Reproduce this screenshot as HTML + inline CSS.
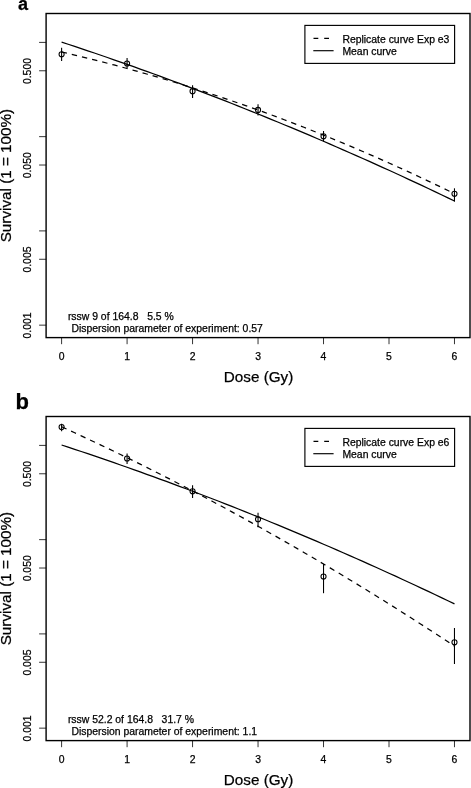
<!DOCTYPE html>
<html><head><meta charset="utf-8"><title>Survival curves</title>
<style>
html,body{margin:0;padding:0;background:#fff;}
svg{display:block;font-family:"Liberation Sans", Arial, Helvetica, sans-serif;fill:#000;}
text{stroke:#000;stroke-width:0.25px;}
</style></head>
<body>
<svg width="471" height="788" viewBox="0 0 471 788">
<rect x="0" y="0" width="471" height="788" fill="#fff"/>
<rect x="46.1" y="13.5" width="423.9" height="324.1" fill="none" stroke="#000" stroke-width="1.4"/>
<line x1="39.1" y1="42.40" x2="46.1" y2="42.40" stroke="#000" stroke-width="0.8"/>
<line x1="39.1" y1="70.77" x2="46.1" y2="70.77" stroke="#000" stroke-width="0.8"/>
<line x1="39.1" y1="136.65" x2="46.1" y2="136.65" stroke="#000" stroke-width="0.8"/>
<line x1="39.1" y1="165.02" x2="46.1" y2="165.02" stroke="#000" stroke-width="0.8"/>
<line x1="39.1" y1="230.90" x2="46.1" y2="230.90" stroke="#000" stroke-width="0.8"/>
<line x1="39.1" y1="259.27" x2="46.1" y2="259.27" stroke="#000" stroke-width="0.8"/>
<line x1="39.1" y1="325.15" x2="46.1" y2="325.15" stroke="#000" stroke-width="0.8"/>
<text transform="translate(31.4,71.07) rotate(-90)" text-anchor="middle" font-size="10.42">0.500</text>
<text transform="translate(31.4,165.32) rotate(-90)" text-anchor="middle" font-size="10.42">0.050</text>
<text transform="translate(31.4,259.57) rotate(-90)" text-anchor="middle" font-size="10.42">0.005</text>
<text transform="translate(31.4,325.45) rotate(-90)" text-anchor="middle" font-size="10.42">0.001</text>
<line x1="61.6" y1="337.6" x2="61.6" y2="344.20000000000005" stroke="#000" stroke-width="0.8"/>
<text x="61.6" y="360.20000000000005" text-anchor="middle" font-size="10.42">0</text>
<line x1="127.08000000000001" y1="337.6" x2="127.08000000000001" y2="344.20000000000005" stroke="#000" stroke-width="0.8"/>
<text x="127.08000000000001" y="360.20000000000005" text-anchor="middle" font-size="10.42">1</text>
<line x1="192.56" y1="337.6" x2="192.56" y2="344.20000000000005" stroke="#000" stroke-width="0.8"/>
<text x="192.56" y="360.20000000000005" text-anchor="middle" font-size="10.42">2</text>
<line x1="258.04" y1="337.6" x2="258.04" y2="344.20000000000005" stroke="#000" stroke-width="0.8"/>
<text x="258.04" y="360.20000000000005" text-anchor="middle" font-size="10.42">3</text>
<line x1="323.52000000000004" y1="337.6" x2="323.52000000000004" y2="344.20000000000005" stroke="#000" stroke-width="0.8"/>
<text x="323.52000000000004" y="360.20000000000005" text-anchor="middle" font-size="10.42">4</text>
<line x1="389.00000000000006" y1="337.6" x2="389.00000000000006" y2="344.20000000000005" stroke="#000" stroke-width="0.8"/>
<text x="389.00000000000006" y="360.20000000000005" text-anchor="middle" font-size="10.42">5</text>
<line x1="454.48" y1="337.6" x2="454.48" y2="344.20000000000005" stroke="#000" stroke-width="0.8"/>
<text x="454.48" y="360.20000000000005" text-anchor="middle" font-size="10.42">6</text>
<text x="258.6" y="381.6" text-anchor="middle" font-size="15.25">Dose (Gy)</text>
<text transform="translate(11.4,175.55) rotate(-90)" text-anchor="middle" font-size="15.25">Survival (1 = 100%)</text>
<text x="18.0" y="9.6" font-size="18" font-weight="bold">a</text>
<polyline points="61.60,42.10 68.15,44.25 74.70,46.42 81.24,48.61 87.79,50.81 94.34,53.03 100.89,55.27 107.44,57.52 113.98,59.79 120.53,62.08 127.08,64.38 133.63,66.70 140.18,69.04 146.72,71.39 153.27,73.76 159.82,76.15 166.37,78.55 172.92,80.98 179.46,83.41 186.01,85.87 192.56,88.34 199.11,90.83 205.66,93.33 212.20,95.86 218.75,98.39 225.30,100.95 231.85,103.52 238.40,106.11 244.94,108.72 251.49,111.34 258.04,113.98 264.59,116.64 271.14,119.31 277.68,122.00 284.23,124.71 290.78,127.43 297.33,130.17 303.88,132.93 310.42,135.70 316.97,138.49 323.52,141.30 330.07,144.12 336.62,146.97 343.16,149.82 349.71,152.70 356.26,155.59 362.81,158.50 369.36,161.42 375.90,164.37 382.45,167.32 389.00,170.30 395.55,173.29 402.10,176.30 408.64,179.33 415.19,182.37 421.74,185.43 428.29,188.51 434.84,191.60 441.38,194.71 447.93,197.84 454.48,200.98" fill="none" stroke="#000" stroke-width="1.25"/>
<polyline points="61.60,52.00 68.15,53.52 74.70,55.07 81.24,56.65 87.79,58.26 94.34,59.90 100.89,61.56 107.44,63.25 113.98,64.97 120.53,66.72 127.08,68.50 133.63,70.31 140.18,72.15 146.72,74.01 153.27,75.90 159.82,77.82 166.37,79.77 172.92,81.75 179.46,83.75 186.01,85.79 192.56,87.85 199.11,89.94 205.66,92.06 212.20,94.21 218.75,96.39 225.30,98.59 231.85,100.83 238.40,103.09 244.94,105.38 251.49,107.70 258.04,110.05 264.59,112.42 271.14,114.83 277.68,117.26 284.23,119.72 290.78,122.21 297.33,124.73 303.88,127.28 310.42,129.85 316.97,132.46 323.52,135.09 330.07,137.75 336.62,140.44 343.16,143.16 349.71,145.90 356.26,148.68 362.81,151.48 369.36,154.31 375.90,157.17 382.45,160.06 389.00,162.98 395.55,165.92 402.10,168.89 408.64,171.90 415.19,174.93 421.74,177.99 428.29,181.07 434.84,184.19 441.38,187.33 447.93,190.51 454.48,193.71" fill="none" stroke="#000" stroke-width="1.25" stroke-dasharray="5.4 5.05"/>
<line x1="61.6" y1="47.8" x2="61.6" y2="61.1" stroke="#000" stroke-width="1.1"/>
<circle cx="61.6" cy="54.2" r="2.55" fill="none" stroke="#000" stroke-width="1.05"/>
<line x1="127.08000000000001" y1="58.1" x2="127.08000000000001" y2="67.9" stroke="#000" stroke-width="1.1"/>
<circle cx="127.08000000000001" cy="63.5" r="2.55" fill="none" stroke="#000" stroke-width="1.05"/>
<line x1="192.56" y1="85.2" x2="192.56" y2="98.0" stroke="#000" stroke-width="1.1"/>
<circle cx="192.56" cy="91.2" r="2.55" fill="none" stroke="#000" stroke-width="1.05"/>
<line x1="258.04" y1="104.2" x2="258.04" y2="115.6" stroke="#000" stroke-width="1.1"/>
<circle cx="258.04" cy="109.9" r="2.55" fill="none" stroke="#000" stroke-width="1.05"/>
<line x1="323.52000000000004" y1="131.0" x2="323.52000000000004" y2="141.5" stroke="#000" stroke-width="1.1"/>
<circle cx="323.52000000000004" cy="136.3" r="2.55" fill="none" stroke="#000" stroke-width="1.05"/>
<line x1="454.48" y1="188.3" x2="454.48" y2="201.7" stroke="#000" stroke-width="1.1"/>
<circle cx="454.48" cy="193.7" r="2.55" fill="none" stroke="#000" stroke-width="1.05"/>
<rect x="304.9" y="25.4" width="149.70000000000005" height="38.0" fill="#fff" stroke="#000" stroke-width="1.15"/>
<line x1="313.5" y1="38.4" x2="333.4" y2="38.4" stroke="#000" stroke-width="1.15" stroke-dasharray="4.8 5.9"/>
<line x1="313.3" y1="50.7" x2="333.6" y2="50.7" stroke="#000" stroke-width="1.15"/>
<text x="342.4" y="42.5" font-size="10.42">Replicate curve Exp e3</text>
<text x="342.4" y="54.7" font-size="10.42">Mean curve</text>
<text x="67.9" y="319.9" font-size="10.42" xml:space="preserve" style="white-space:pre">rssw 9 of 164.8   5.5 %</text>
<text x="71.4" y="332.3" font-size="10.42">Dispersion parameter of experiment: 0.57</text>
<rect x="46.1" y="416.5" width="423.9" height="324.1" fill="none" stroke="#000" stroke-width="1.4"/>
<line x1="39.1" y1="445.40" x2="46.1" y2="445.40" stroke="#000" stroke-width="0.8"/>
<line x1="39.1" y1="473.77" x2="46.1" y2="473.77" stroke="#000" stroke-width="0.8"/>
<line x1="39.1" y1="539.65" x2="46.1" y2="539.65" stroke="#000" stroke-width="0.8"/>
<line x1="39.1" y1="568.02" x2="46.1" y2="568.02" stroke="#000" stroke-width="0.8"/>
<line x1="39.1" y1="633.90" x2="46.1" y2="633.90" stroke="#000" stroke-width="0.8"/>
<line x1="39.1" y1="662.27" x2="46.1" y2="662.27" stroke="#000" stroke-width="0.8"/>
<line x1="39.1" y1="728.15" x2="46.1" y2="728.15" stroke="#000" stroke-width="0.8"/>
<text transform="translate(31.4,474.07) rotate(-90)" text-anchor="middle" font-size="10.42">0.500</text>
<text transform="translate(31.4,568.32) rotate(-90)" text-anchor="middle" font-size="10.42">0.050</text>
<text transform="translate(31.4,662.57) rotate(-90)" text-anchor="middle" font-size="10.42">0.005</text>
<text transform="translate(31.4,728.45) rotate(-90)" text-anchor="middle" font-size="10.42">0.001</text>
<line x1="61.6" y1="740.6" x2="61.6" y2="747.2" stroke="#000" stroke-width="0.8"/>
<text x="61.6" y="763.2" text-anchor="middle" font-size="10.42">0</text>
<line x1="127.08000000000001" y1="740.6" x2="127.08000000000001" y2="747.2" stroke="#000" stroke-width="0.8"/>
<text x="127.08000000000001" y="763.2" text-anchor="middle" font-size="10.42">1</text>
<line x1="192.56" y1="740.6" x2="192.56" y2="747.2" stroke="#000" stroke-width="0.8"/>
<text x="192.56" y="763.2" text-anchor="middle" font-size="10.42">2</text>
<line x1="258.04" y1="740.6" x2="258.04" y2="747.2" stroke="#000" stroke-width="0.8"/>
<text x="258.04" y="763.2" text-anchor="middle" font-size="10.42">3</text>
<line x1="323.52000000000004" y1="740.6" x2="323.52000000000004" y2="747.2" stroke="#000" stroke-width="0.8"/>
<text x="323.52000000000004" y="763.2" text-anchor="middle" font-size="10.42">4</text>
<line x1="389.00000000000006" y1="740.6" x2="389.00000000000006" y2="747.2" stroke="#000" stroke-width="0.8"/>
<text x="389.00000000000006" y="763.2" text-anchor="middle" font-size="10.42">5</text>
<line x1="454.48" y1="740.6" x2="454.48" y2="747.2" stroke="#000" stroke-width="0.8"/>
<text x="454.48" y="763.2" text-anchor="middle" font-size="10.42">6</text>
<text x="258.6" y="784.6" text-anchor="middle" font-size="15.25">Dose (Gy)</text>
<text transform="translate(11.4,578.55) rotate(-90)" text-anchor="middle" font-size="15.25">Survival (1 = 100%)</text>
<text x="15.5" y="408.6" font-size="22" font-weight="bold">b</text>
<polyline points="61.60,445.00 68.15,447.15 74.70,449.32 81.24,451.51 87.79,453.71 94.34,455.93 100.89,458.17 107.44,460.42 113.98,462.69 120.53,464.98 127.08,467.28 133.63,469.60 140.18,471.94 146.72,474.29 153.27,476.66 159.82,479.05 166.37,481.45 172.92,483.88 179.46,486.31 186.01,488.77 192.56,491.24 199.11,493.73 205.66,496.23 212.20,498.76 218.75,501.29 225.30,503.85 231.85,506.42 238.40,509.01 244.94,511.62 251.49,514.24 258.04,516.88 264.59,519.54 271.14,522.21 277.68,524.90 284.23,527.61 290.78,530.33 297.33,533.07 303.88,535.83 310.42,538.60 316.97,541.39 323.52,544.20 330.07,547.02 336.62,549.87 343.16,552.72 349.71,555.60 356.26,558.49 362.81,561.40 369.36,564.32 375.90,567.27 382.45,570.22 389.00,573.20 395.55,576.19 402.10,579.20 408.64,582.23 415.19,585.27 421.74,588.33 428.29,591.41 434.84,594.50 441.38,597.61 447.93,600.74 454.48,603.88" fill="none" stroke="#000" stroke-width="1.25"/>
<polyline points="61.60,426.80 68.15,429.79 74.70,432.80 81.24,435.84 87.79,438.90 94.34,441.98 100.89,445.08 107.44,448.21 113.98,451.35 120.53,454.52 127.08,457.72 133.63,460.93 140.18,464.17 146.72,467.43 153.27,470.71 159.82,474.02 166.37,477.35 172.92,480.70 179.46,484.07 186.01,487.47 192.56,490.89 199.11,494.33 205.66,497.79 212.20,501.28 218.75,504.79 225.30,508.32 231.85,511.87 238.40,515.45 244.94,519.05 251.49,522.67 258.04,526.31 264.59,529.98 271.14,533.67 277.68,537.38 284.23,541.11 290.78,544.87 297.33,548.65 303.88,552.45 310.42,556.28 316.97,560.12 323.52,563.99 330.07,567.88 336.62,571.80 343.16,575.74 349.71,579.69 356.26,583.68 362.81,587.68 369.36,591.71 375.90,595.76 382.45,599.83 389.00,603.92 395.55,608.04 402.10,612.18 408.64,616.34 415.19,620.53 421.74,624.74 428.29,628.97 434.84,633.22 441.38,637.49 447.93,641.79 454.48,646.11" fill="none" stroke="#000" stroke-width="1.25" stroke-dasharray="5.4 5.05"/>
<line x1="61.6" y1="423.8" x2="61.6" y2="431.2" stroke="#000" stroke-width="1.1"/>
<circle cx="61.6" cy="427.1" r="2.55" fill="none" stroke="#000" stroke-width="1.05"/>
<line x1="127.08000000000001" y1="453.6" x2="127.08000000000001" y2="464.0" stroke="#000" stroke-width="1.1"/>
<circle cx="127.08000000000001" cy="458.5" r="2.55" fill="none" stroke="#000" stroke-width="1.05"/>
<line x1="192.56" y1="485.3" x2="192.56" y2="498.0" stroke="#000" stroke-width="1.1"/>
<circle cx="192.56" cy="491.3" r="2.55" fill="none" stroke="#000" stroke-width="1.05"/>
<line x1="258.04" y1="512.8" x2="258.04" y2="527.2" stroke="#000" stroke-width="1.1"/>
<circle cx="258.04" cy="519.2" r="2.55" fill="none" stroke="#000" stroke-width="1.05"/>
<line x1="323.52000000000004" y1="563.9" x2="323.52000000000004" y2="593.2" stroke="#000" stroke-width="1.1"/>
<circle cx="323.52000000000004" cy="576.5" r="2.55" fill="none" stroke="#000" stroke-width="1.05"/>
<line x1="454.48" y1="628.0" x2="454.48" y2="664.0" stroke="#000" stroke-width="1.1"/>
<circle cx="454.48" cy="642.3" r="2.55" fill="none" stroke="#000" stroke-width="1.05"/>
<rect x="304.9" y="428.4" width="149.70000000000005" height="38.0" fill="#fff" stroke="#000" stroke-width="1.15"/>
<line x1="313.5" y1="441.4" x2="333.4" y2="441.4" stroke="#000" stroke-width="1.15" stroke-dasharray="4.8 5.9"/>
<line x1="313.3" y1="453.7" x2="333.6" y2="453.7" stroke="#000" stroke-width="1.15"/>
<text x="342.4" y="445.5" font-size="10.42">Replicate curve Exp e6</text>
<text x="342.4" y="457.7" font-size="10.42">Mean curve</text>
<text x="67.9" y="722.9" font-size="10.42" xml:space="preserve" style="white-space:pre">rssw 52.2 of 164.8   31.7 %</text>
<text x="71.4" y="735.3" font-size="10.42">Dispersion parameter of experiment: 1.1</text>
</svg>
</body></html>
